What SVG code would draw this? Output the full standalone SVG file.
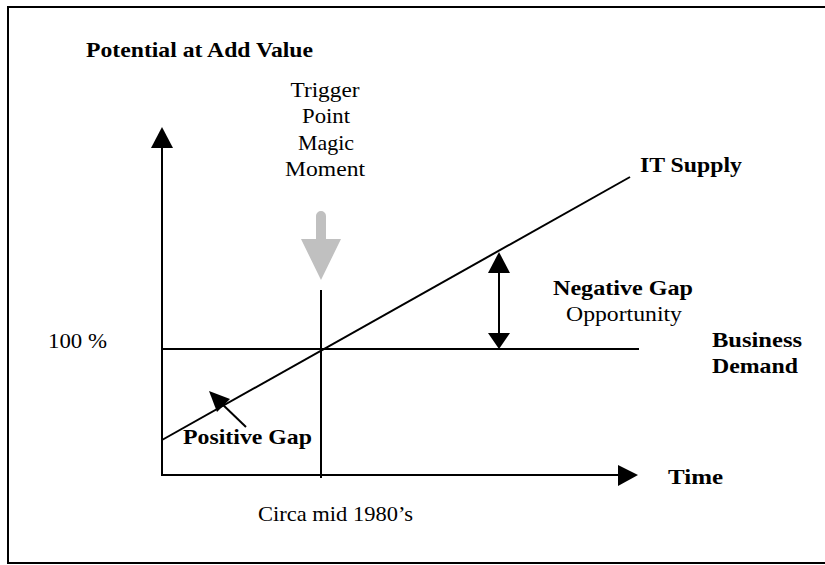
<svg xmlns="http://www.w3.org/2000/svg" width="825" height="565" viewBox="0 0 825 565">
<style>
  text { font-family: "Liberation Serif", "Times New Roman", serif; font-size: 22px; fill: #000; }
  .b { font-weight: bold; }
  .ln { stroke: #000; stroke-width: 2; fill: none; }
  .hd { fill: #000; stroke: none; }
</style>
<rect x="8" y="7" width="818" height="556" fill="#fff" stroke="#000" stroke-width="2"/>
<g id="connectors">
  <line class="ln" x1="162" y1="146" x2="162" y2="476"/>
  <polygon class="hd" points="162,127 151,148 173,148"/>
  <line class="ln" x1="161" y1="475" x2="620" y2="475"/>
  <polygon class="hd" points="638,475 618,465 618,486"/>
  <line class="ln" x1="161" y1="349" x2="639" y2="349"/>
  <line class="ln" x1="321" y1="290" x2="321" y2="478"/>
  <line class="ln" x1="162" y1="440" x2="630" y2="177"/>
  <line class="ln" x1="499" y1="270" x2="499" y2="336"/>
  <polygon class="hd" points="499,252 488,273 510,273"/>
  <polygon class="hd" points="499,349 488,333 510,333"/>
  <line class="ln" x1="246" y1="427" x2="220" y2="402"/>
  <polygon class="hd" points="209,391 230,399 217,412"/>
  <path d="M316,239 V216 A5,5 0 0 1 326,216 V239 H341 L321,280 L301,239 Z" fill="#c0c0c0"/>
</g>
<g id="y-axis-label"><text class="b" x="86" y="57" textLength="227" lengthAdjust="spacingAndGlyphs">Potential at Add Value</text></g>
<g id="trigger" text-anchor="middle">
  <text x="325" y="97" textLength="69" lengthAdjust="spacingAndGlyphs">Trigger</text>
  <text x="326" y="123" textLength="48" lengthAdjust="spacingAndGlyphs">Point</text>
  <text x="326" y="150" textLength="56" lengthAdjust="spacingAndGlyphs">Magic</text>
  <text x="325" y="176" textLength="80" lengthAdjust="spacingAndGlyphs">Moment</text>
</g>
<g id="it-supply"><text class="b" x="640" y="172" textLength="102" lengthAdjust="spacingAndGlyphs">IT Supply</text></g>
<g id="negative-gap">
  <text class="b" x="553" y="295" textLength="140" lengthAdjust="spacingAndGlyphs">Negative Gap</text>
  <text x="566" y="321" textLength="116" lengthAdjust="spacingAndGlyphs">Opportunity</text>
</g>
<g id="business-demand">
  <text class="b" x="712" y="347" textLength="90" lengthAdjust="spacingAndGlyphs">Business</text>
  <text class="b" x="712" y="373" textLength="86" lengthAdjust="spacingAndGlyphs">Demand</text>
</g>
<g id="hundred"><text x="48" y="348" textLength="59" lengthAdjust="spacingAndGlyphs">100 %</text></g>
<g id="positive-gap"><text class="b" x="183" y="444" textLength="129" lengthAdjust="spacingAndGlyphs">Positive Gap</text></g>
<g id="time"><text class="b" x="668" y="484" textLength="55" lengthAdjust="spacingAndGlyphs">Time</text></g>
<g id="circa"><text x="258" y="521" textLength="155" lengthAdjust="spacingAndGlyphs">Circa mid 1980’s</text></g>
</svg>
